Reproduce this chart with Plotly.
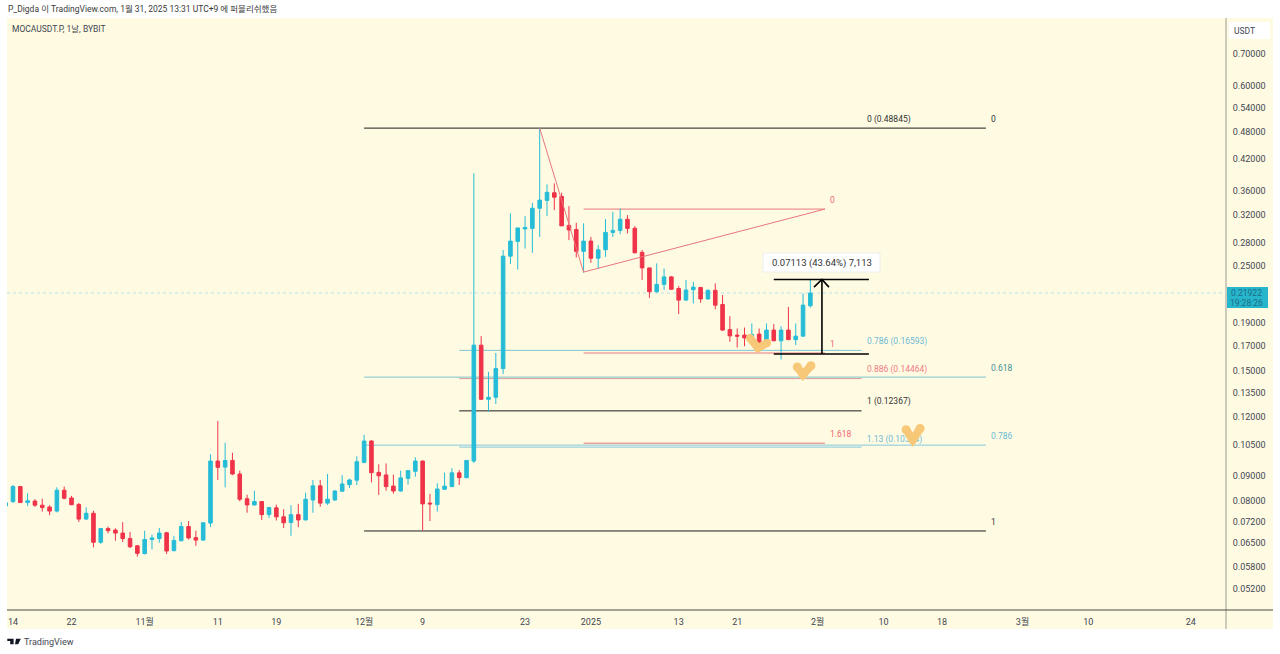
import math
import pandas as pd
import plotly.graph_objects as go

# ---------- data ----------
first_day = "2024-10-13"
open_ = [.0779,.0796,.0856,.0792,.0798,.0782,.0775,.0760,.0841,.0810,.0785,.0731,.0752,.0653,.0698,.0693,.0683,.0665,.0642,.0618,.0662,.0665,.0684,.0627,.0658,.0705,.0668,.0660,.0717,.0969,.0941,.0972,.0910,.0807,.0783,.0796,.0747,.0772,.0739,.0719,.0747,.0728,.0802,.0859,.0790,.0802,.0837,.0864,.0883,.0963,.1068,.0917,.0906,.0858,.0838,.0891,.0922,.0969,.0790,.0784,.0845,.0856,.0915,.0894,.0969,.1702,.1308,.1321,.1519,.2622,.2817,.2993,.3001,.3309,.3438,.3568,.3504,.3045,.2985,.2684,.2821,.2596,.2705,.2943,.2972,.3137,.3003,.2671,.2477,.2206,.2286,.2371,.2241,.2118,.2228,.2252,.2130,.2221,.2074,.1835,.1787,.1787,.1767,.1796,.1693,.1831,.1738,.1831,.1748,.1778,.2060]
high = [.0810,.0863,.0859,.0829,.0805,.0807,.0782,.0853,.0856,.0818,.0790,.0774,.0761,.0700,.0705,.0699,.0720,.0687,.0644,.0691,.0678,.0700,.0687,.0673,.0721,.0724,.0691,.0720,.1002,.1177,.1059,.1009,.0925,.0823,.0839,.0798,.0776,.0784,.0767,.0782,.0787,.0831,.0884,.0884,.0910,.0841,.0905,.0890,.0992,.1101,.1073,.0954,.0958,.0907,.0925,.0928,.0987,.0972,.0826,.0870,.0916,.0936,.0928,.0974,.3920,.1778,.1495,.1638,.2701,.3227,.3008,.3184,.3398,.48845,.3716,.3734,.3568,.3343,.3084,.3075,.2879,.2766,.3141,.3253,.3304,.3200,.3034,.2701,.2477,.2532,.2469,.2382,.2267,.2335,.2316,.2259,.2231,.2298,.2170,.1959,.1845,.1854,.1891,.1845,.1891,.1885,.1866,.2049,.1891,.2188,.2340]
low = [.0772,.0790,.0791,.0779,.0776,.0758,.0745,.0755,.0805,.0782,.0721,.0728,.0637,.0648,.0682,.0658,.0654,.0635,.0609,.0616,.0631,.0652,.0617,.0625,.0656,.0662,.0642,.0658,.0703,.0884,.0853,.0905,.0797,.0754,.0780,.0728,.0735,.0726,.0700,.0674,.0703,.0726,.0754,.0776,.0783,.0799,.0834,.0850,.0862,.0958,.0874,.0822,.0839,.0827,.0835,.0864,.0898,.0691,.0724,.0758,.0842,.0853,.0863,.0891,.0960,.1306,.1231,.1278,.1479,.2523,.2457,.2721,.2666,.2879,.3184,.3280,.3038,.2835,.2605,.2419,.2539,.2469,.2613,.2879,.2918,.2928,.2657,.2336,.2141,.2195,.2224,.2229,.1979,.2111,.2084,.2090,.2125,.2025,.1825,.1730,.1682,.1693,.1716,.1676,.1685,.1736,.1587,.1744,.1702,.1772,.2043]
close = [.0791,.0856,.0792,.0799,.0782,.0773,.0760,.0841,.0809,.0784,.0731,.0752,.0653,.0698,.0691,.0683,.0665,.0639,.0619,.0662,.0667,.0683,.0626,.0659,.0705,.0667,.0660,.0718,.0969,.0940,.0972,.0910,.0805,.0783,.0796,.0747,.0773,.0739,.0718,.0747,.0728,.0805,.0859,.0790,.0805,.0838,.0867,.0884,.0966,.1068,.0916,.0902,.0856,.0838,.0893,.0925,.0969,.0787,.0787,.0846,.0858,.0915,.0894,.0972,.1702,.1308,.1321,.1519,.2622,.2821,.3008,.3014,.3309,.3443,.3575,.3492,.3038,.2978,.2684,.2821,.2596,.2705,.2943,.2972,.3137,.3001,.2666,.2477,.2206,.2286,.2371,.2233,.2118,.2224,.2256,.2130,.2221,.2067,.1831,.1780,.1778,.1763,.1793,.1693,.1831,.1738,.1831,.1748,.1778,.2067,.2192]

price_ticks = [0.70,0.60,0.54,0.48,0.42,0.36,0.32,0.28,0.25,0.19,0.17,0.15,0.135,0.12,0.105,0.09,0.08,0.072,0.065,0.058,0.052]
price_tick_labels = ["0.70000","0.60000","0.54000","0.48000","0.42000","0.36000","0.32000","0.28000","0.25000","0.19000","0.17000","0.15000","0.13500","0.12000","0.10500","0.09000","0.08000","0.07200","0.06500","0.05800","0.05200"]
date_ticks = ["2024-10-14","2024-10-22","2024-11-01","2024-11-11","2024-11-19","2024-12-01","2024-12-09","2024-12-23","2025-01-01","2025-01-13","2025-01-21","2025-02-01","2025-02-10","2025-02-18","2025-03-01","2025-03-10","2025-03-24"]
date_tick_labels = ["14","22","11월","11","19","12월","9","23","2025","13","21","2월","10","18","3월","10","24"]

last_price = 0.21922
view_x = ["2024-10-13 04:20","2025-03-28 19:40"]
view_y = [0.0470,0.834]

# wide fib: level, colour
wide_x = ["2024-12-01","2025-02-24"]
wide_levels = [0.48845,0.1457,0.1047,0.0690]
wide_colors = ["#1c1c1c","#7cc4cc","#84c8dc","#1c1c1c"]
wide_text = ["0","0.618","0.786","1"]
wide_text_colors = ["#333333","#3f8f96","#6db9d6","#333333"]
wide_text_x = ["2025-02-25","2025-02-26 06:00","2025-02-26 06:00","2025-02-25"]

# narrow fib
narrow_x = ["2024-12-14","2025-02-07"]
narrow_levels = [0.16593,0.14464,0.12367,0.1037]
narrow_colors = ["#84c4d4","#d99a98","#1c1c1c","#84c8dc"]
narrow_text = ["0.786 (0.16593)","0.886 (0.14464)","1 (0.12367)"]
narrow_text_colors = ["#6db9d6","#ee7b84","#333333"]
text_left_x = "2025-02-07 10:00"
text_113_x = "2025-02-07 17:00"
text_113_y = 0.1052

# red fib
red_x = ["2024-12-31","2025-02-02"]
red_levels = [0.3296,0.1638,0.1057]
red_text = ["0","1","1.618"]
red_text_x = ["2025-02-03","2025-02-03","2025-02-04 06:00"]
trend_x = ["2024-12-25","2024-12-31","2025-02-02"]
trend_y = [0.48845,0.2427,0.3296]

# price range measure
range_x = ["2025-01-26","2025-02-08"]
range_low = 0.1630
range_high = 0.2341
shaft_x = ["2025-02-01 14:00","2025-02-01 14:00"]
head_x = ["2025-01-31 12:00","2025-02-01 14:00","2025-02-02 13:00"]
head_y = [0.2256,0.2341,0.2256]

# doodles
heart1_x = ["2025-01-22 18:00","2025-01-23 20:00","2025-01-25 02:00"]
heart1_y = [0.1761,0.1679,0.1719]
heart2_x = ["2025-01-29 05:00","2025-01-30 00:00","2025-01-31 02:00"]
heart2_y = [0.1530,0.1474,0.1540]
heart3_x = ["2025-02-13 02:00","2025-02-14 00:00","2025-02-15 00:00"]
heart3_y = [0.1128,0.1075,0.1135]

BLUE = "#26bcd7"
RED = "#ef3349"
CREAM = "#fffbe3"
HEART = "#f7c877"
FONT = "Roboto, 'Noto Sans CJK KR', sans-serif"
FS = 8.5
AXFS = 9

dates = pd.date_range(first_day, periods=len(close), freq="D")


def px(x):
    return (x - 7) / 1219


def py(y):
    return (610 - y) / 592


def hline(x0, x1, y, color, width=1, layer="below", dash="solid"):
    return dict(type="line", xref="x", yref="y", x0=x0, x1=x1, y0=y, y1=y,
                line=dict(color=color, width=width, dash=dash), layer=layer)


fig = go.Figure()

fig.add_trace(go.Scatter(x=heart1_x, y=heart1_y, mode="lines+markers", hoverinfo="skip", showlegend=False,
                         line=dict(color=HEART, width=8), marker=dict(color=HEART, size=8)))

fig.add_trace(go.Candlestick(x=dates, open=open_, high=high, low=low, close=close, showlegend=False,
                             whiskerwidth=0,
                             increasing=dict(line=dict(color=BLUE, width=1), fillcolor=BLUE),
                             decreasing=dict(line=dict(color=RED, width=1), fillcolor=RED)))

fig.add_trace(go.Scatter(x=trend_x, y=trend_y, mode="lines", hoverinfo="skip", showlegend=False,
                         line=dict(color="#e8767c", width=1)))
fig.add_trace(go.Scatter(x=[text_113_x], y=[text_113_y], mode="text", text=["1.13 (0.10344)"],
                         textposition="top right", textfont=dict(family=FONT, size=FS, color="#6db9d6"),
                         hoverinfo="skip", showlegend=False))
fig.add_trace(go.Scatter(x=heart2_x, y=heart2_y, mode="lines+markers", hoverinfo="skip", showlegend=False,
                         line=dict(color=HEART, width=8), marker=dict(color=HEART, size=9)))
fig.add_trace(go.Scatter(x=heart3_x, y=heart3_y, mode="lines+markers", hoverinfo="skip", showlegend=False,
                         line=dict(color=HEART, width=8), marker=dict(color=HEART, size=9)))
fig.add_trace(go.Scatter(x=shaft_x, y=[range_low, range_high], mode="lines", hoverinfo="skip", showlegend=False,
                         line=dict(color="#000000", width=1.6)))
fig.add_trace(go.Scatter(x=head_x, y=head_y, mode="lines", hoverinfo="skip", showlegend=False,
                         line=dict(color="#000000", width=1.6)))

shapes = [
    dict(type="rect", xref="paper", yref="paper", x0=0, x1=px(1273), y0=py(629), y1=1,
         fillcolor=CREAM, line=dict(width=0), layer="below"),
    dict(type="line", xref="paper", yref="paper", x0=1, x1=1, y0=py(629), y1=1,
         line=dict(color="#9a9a90", width=1), layer="below"),
    dict(type="line", xref="paper", yref="paper", x0=0, x1=px(1273), y0=0, y1=0,
         line=dict(color="#4a4a44", width=1), layer="below"),
    dict(type="rect", xref="paper", yref="paper", x0=px(1229), x1=px(1270), y0=py(39), y1=py(22),
         fillcolor="#ffffff", line=dict(width=0), layer="below"),
    dict(type="rect", xref="paper", yref="paper", x0=px(1227), x1=px(1268), y0=py(308), y1=py(287),
         fillcolor="#25b6cc", line=dict(width=0), layer="above"),
    dict(type="rect", xref="paper", yref="paper", x0=px(763), x1=px(880), y0=py(272), y1=py(253),
         fillcolor="#ffffff", line=dict(color="#eeeeee", width=1), layer="above"),
    dict(type="path", xref="paper", yref="paper",
         path=(f"M {px(7.3)} {py(638.8)} L {px(13.6)} {py(638.8)} L {px(13.6)} {py(644.3)} L {px(10.2)} {py(644.3)} "
               f"L {px(10.2)} {py(641)} L {px(7.3)} {py(641)} Z "
               f"M {px(16)} {py(638.8)} L {px(20.8)} {py(638.8)} L {px(18.2)} {py(644.3)} L {px(15)} {py(644.3)} Z"),
         fillcolor="#131722", line=dict(width=0), layer="above"),
    hline(view_x[0], view_x[1], last_price, "#b5e2e6", dash="dot"),
]
for lv, col in zip(wide_levels, wide_colors):
    shapes.append(hline(wide_x[0], wide_x[1], lv, col))
for lv, col in zip(narrow_levels, narrow_colors):
    shapes.append(hline(narrow_x[0], narrow_x[1], lv, col))
for lv in red_levels:
    shapes.append(hline(red_x[0], red_x[1], lv, "#e8767c"))
shapes.append(hline(range_x[0], range_x[1], range_low, "#000000", 1.6, "above"))
shapes.append(hline(range_x[0], range_x[1], range_high, "#000000", 1.6, "above"))

annotations = []


def label(text, x, y, color, anchor="center", yshift=9):
    # annotations on a log axis take log10 positions
    annotations.append(dict(text=text, x=x, y=math.log10(y), xref="x", yref="y", yanchor="middle", xanchor=anchor,
                            yshift=yshift, showarrow=False, font=dict(family=FONT, size=FS, color=color)))


def paper_label(text, x, y, color="#434651", size=FS, anchor="left"):
    annotations.append(dict(text=text, x=px(x), y=py(y), xref="paper", yref="paper", xanchor=anchor,
                            yanchor="middle", showarrow=False, font=dict(family=FONT, size=size, color=color)))


label("0 (0.48845)", text_left_x, 0.48845, "#333333", "left")
for t, lv, col in zip(narrow_text, narrow_levels, narrow_text_colors):
    label(t, text_left_x, lv, col, "left")
for t, lv, col, xx in zip(wide_text, wide_levels, wide_text_colors, wide_text_x):
    label(t, xx, lv, col)
for t, lv, xx in zip(red_text, red_levels, red_text_x):
    label(t, xx, lv, "#ee6670")

paper_label("P_Digda 이 TradingView.com, 1월 31, 2025 13:31 UTC+9 에 퍼블리쉬했음", 5.5, 9, "#3a3a3a")
paper_label("MOCAUSDT.P, 1날, BYBIT", 10, 29, "#434651")
paper_label("USDT", 1244, 30.5, "#434651", FS, "center")
paper_label("0.21922", 1246.5, 292.5, "#1f6c86", FS, "center")
paper_label("19:28:26", 1246.5, 302.5, "#1f6c86", FS, "center")
paper_label("0.07113 (43.64%) 7,113", 821.5, 262.5, "#333333", 9.5, "center")
paper_label("TradingView", 21.5, 641.5, "#434651", 9)

fig.update_layout(
    width=1280, height=654,
    margin=dict(l=7, r=54, t=18, b=44, autoexpand=False),
    paper_bgcolor="#ffffff", plot_bgcolor="rgba(0,0,0,0)",
    showlegend=False, shapes=shapes, annotations=annotations,
    font=dict(family=FONT, size=FS, color="#434651"),
    xaxis=dict(type="date", range=view_x, rangeslider=dict(visible=False), showgrid=False, zeroline=False,
               tickmode="array", tickvals=date_ticks, ticktext=date_tick_labels,
               ticks="outside", ticklen=3, tickcolor=CREAM, tickangle=0,
               tickfont=dict(family=FONT, size=AXFS, color="#434651")),
    yaxis=dict(type="log", side="right", range=[math.log10(view_y[0]), math.log10(view_y[1])],
               showgrid=False, zeroline=False,
               tickmode="array", tickvals=price_ticks, ticktext=price_tick_labels,
               ticks="outside", ticklen=4, tickcolor=CREAM,
               tickfont=dict(family=FONT, size=AXFS, color="#434651")),
)

fig.write_html("out.html", config=dict(displayModeBar=False), post_script="document.body.style.margin='0';")
